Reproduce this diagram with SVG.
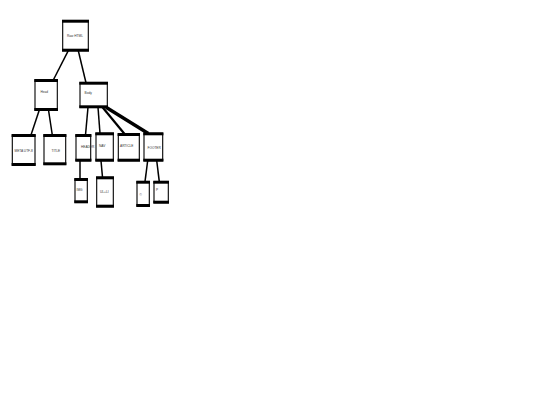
<svg xmlns="http://www.w3.org/2000/svg" width="540" height="405" viewBox="0 0 540 405">
<style>
.box{fill:#fff;stroke:#000;stroke-width:1.1}
.bar{stroke:#000;stroke-width:3}
.lbl{font-family:"Liberation Sans",Arial,sans-serif;font-size:3.2px;fill:#333}
.edge{stroke:#000;fill:none;stroke-width:1.5}
</style>
<rect width="540" height="405" fill="#fff"/>
<g id="connectors">
<line class="edge" x1="68.3" y1="50.7" x2="53.3" y2="80"/>
<line class="edge" x1="78.3" y1="50.7" x2="86" y2="82.7"/>
<line class="edge" x1="39.3" y1="110" x2="31" y2="135"/>
<line class="edge" x1="48.5" y1="110" x2="52.3" y2="135"/>
<line class="edge" x1="88" y1="107.3" x2="85.5" y2="135"/>
<line class="edge" x1="98" y1="107.3" x2="100" y2="133.5"/>
<line class="edge" x1="102.5" y1="107.3" x2="125" y2="134.5" style="stroke-width:2.2"/>
<line class="edge" x1="106" y1="107.3" x2="148.3" y2="133.5" style="stroke-width:3.4"/>
<line class="edge" x1="80" y1="160.7" x2="80" y2="179"/>
<line class="edge" x1="101" y1="160.7" x2="102.5" y2="177.3"/>
<line class="edge" x1="147.7" y1="160.7" x2="145" y2="181.7"/>
<line class="edge" x1="156.7" y1="160.7" x2="159.3" y2="181.7"/>
</g>
<g id="root"><rect class="box" x="62.7" y="20.7" width="25.6" height="30"/><line class="bar" x1="62" y1="21.2" x2="89" y2="21.2"/><line class="bar" x1="62" y1="50.2" x2="89" y2="50.2"/><text class="lbl" x="67" y="37">Raw HTML</text></g>
<g id="head"><rect class="box" x="35" y="80" width="22.3" height="30"/><line class="bar" x1="34.3" y1="80.5" x2="58" y2="80.5"/><line class="bar" x1="34.3" y1="109.5" x2="58" y2="109.5"/><text class="lbl" x="40.5" y="93">Head</text></g>
<g id="body"><rect class="box" x="80" y="82.7" width="27.3" height="24.6"/><line class="bar" x1="79.3" y1="83.2" x2="108" y2="83.2"/><line class="bar" x1="79.3" y1="106.8" x2="108" y2="106.8"/><text class="lbl" x="84.5" y="94">Body</text></g>
<g id="meta"><rect class="box" x="12.3" y="135" width="22.7" height="30"/><line class="bar" x1="11.6" y1="135.5" x2="35.7" y2="135.5"/><line class="bar" x1="11.6" y1="164.5" x2="35.7" y2="164.5"/><text class="lbl" x="14.5" y="152">META UTF-8</text></g>
<g id="title"><rect class="box" x="44" y="135" width="21.7" height="29.3"/><line class="bar" x1="43.3" y1="135.5" x2="66.4" y2="135.5"/><line class="bar" x1="43.3" y1="163.8" x2="66.4" y2="163.8"/><text class="lbl" x="51.5" y="152">TITLE</text></g>
<g id="header"><rect class="box" x="76" y="135" width="14.7" height="25.7"/><line class="bar" x1="75.3" y1="135.5" x2="91.4" y2="135.5"/><line class="bar" x1="75.3" y1="160.2" x2="91.4" y2="160.2"/><text class="lbl" x="81" y="148">HEADER</text></g>
<g id="nav"><rect class="box" x="96" y="133.3" width="17.3" height="27.4"/><line class="bar" x1="95.3" y1="133.8" x2="114" y2="133.8"/><line class="bar" x1="95.3" y1="160.2" x2="114" y2="160.2"/><text class="lbl" x="99" y="147">NAV</text></g>
<g id="article"><rect class="box" x="118.3" y="134" width="21" height="26.7"/><line class="bar" x1="117.6" y1="134.5" x2="140" y2="134.5"/><line class="bar" x1="117.6" y1="160.2" x2="140" y2="160.2"/><text class="lbl" x="120" y="147">ARTICLE</text></g>
<g id="footer"><rect class="box" x="144" y="133.3" width="18.7" height="27.4"/><line class="bar" x1="143.3" y1="133.8" x2="163.4" y2="133.8"/><line class="bar" x1="143.3" y1="160.2" x2="163.4" y2="160.2"/><text class="lbl" x="147.5" y="149">FOOTER</text></g>
<g id="img"><rect class="box" x="75" y="179" width="12.3" height="23.3"/><line class="bar" x1="74.3" y1="179.5" x2="88" y2="179.5"/><line class="bar" x1="74.3" y1="201.8" x2="88" y2="201.8"/><text class="lbl" x="76.5" y="191">IMG</text></g>
<g id="ulli"><rect class="box" x="96.7" y="177.3" width="16.6" height="29.4"/><line class="bar" x1="96" y1="177.8" x2="114" y2="177.8"/><line class="bar" x1="96" y1="206.2" x2="114" y2="206.2"/><text class="lbl" x="100" y="193">UL+LI</text></g>
<g id="copy"><rect class="box" x="137" y="181.7" width="12.3" height="24.3"/><line class="bar" x1="136.3" y1="182.2" x2="150" y2="182.2"/><line class="bar" x1="136.3" y1="205.5" x2="150" y2="205.5"/><text class="lbl" x="139.5" y="196">©</text></g>
<g id="p"><rect class="box" x="154" y="181.7" width="14.3" height="21"/><line class="bar" x1="153.3" y1="182.2" x2="169" y2="182.2"/><line class="bar" x1="153.3" y1="202.2" x2="169" y2="202.2"/><text class="lbl" x="156" y="191">P</text></g>
</svg>
